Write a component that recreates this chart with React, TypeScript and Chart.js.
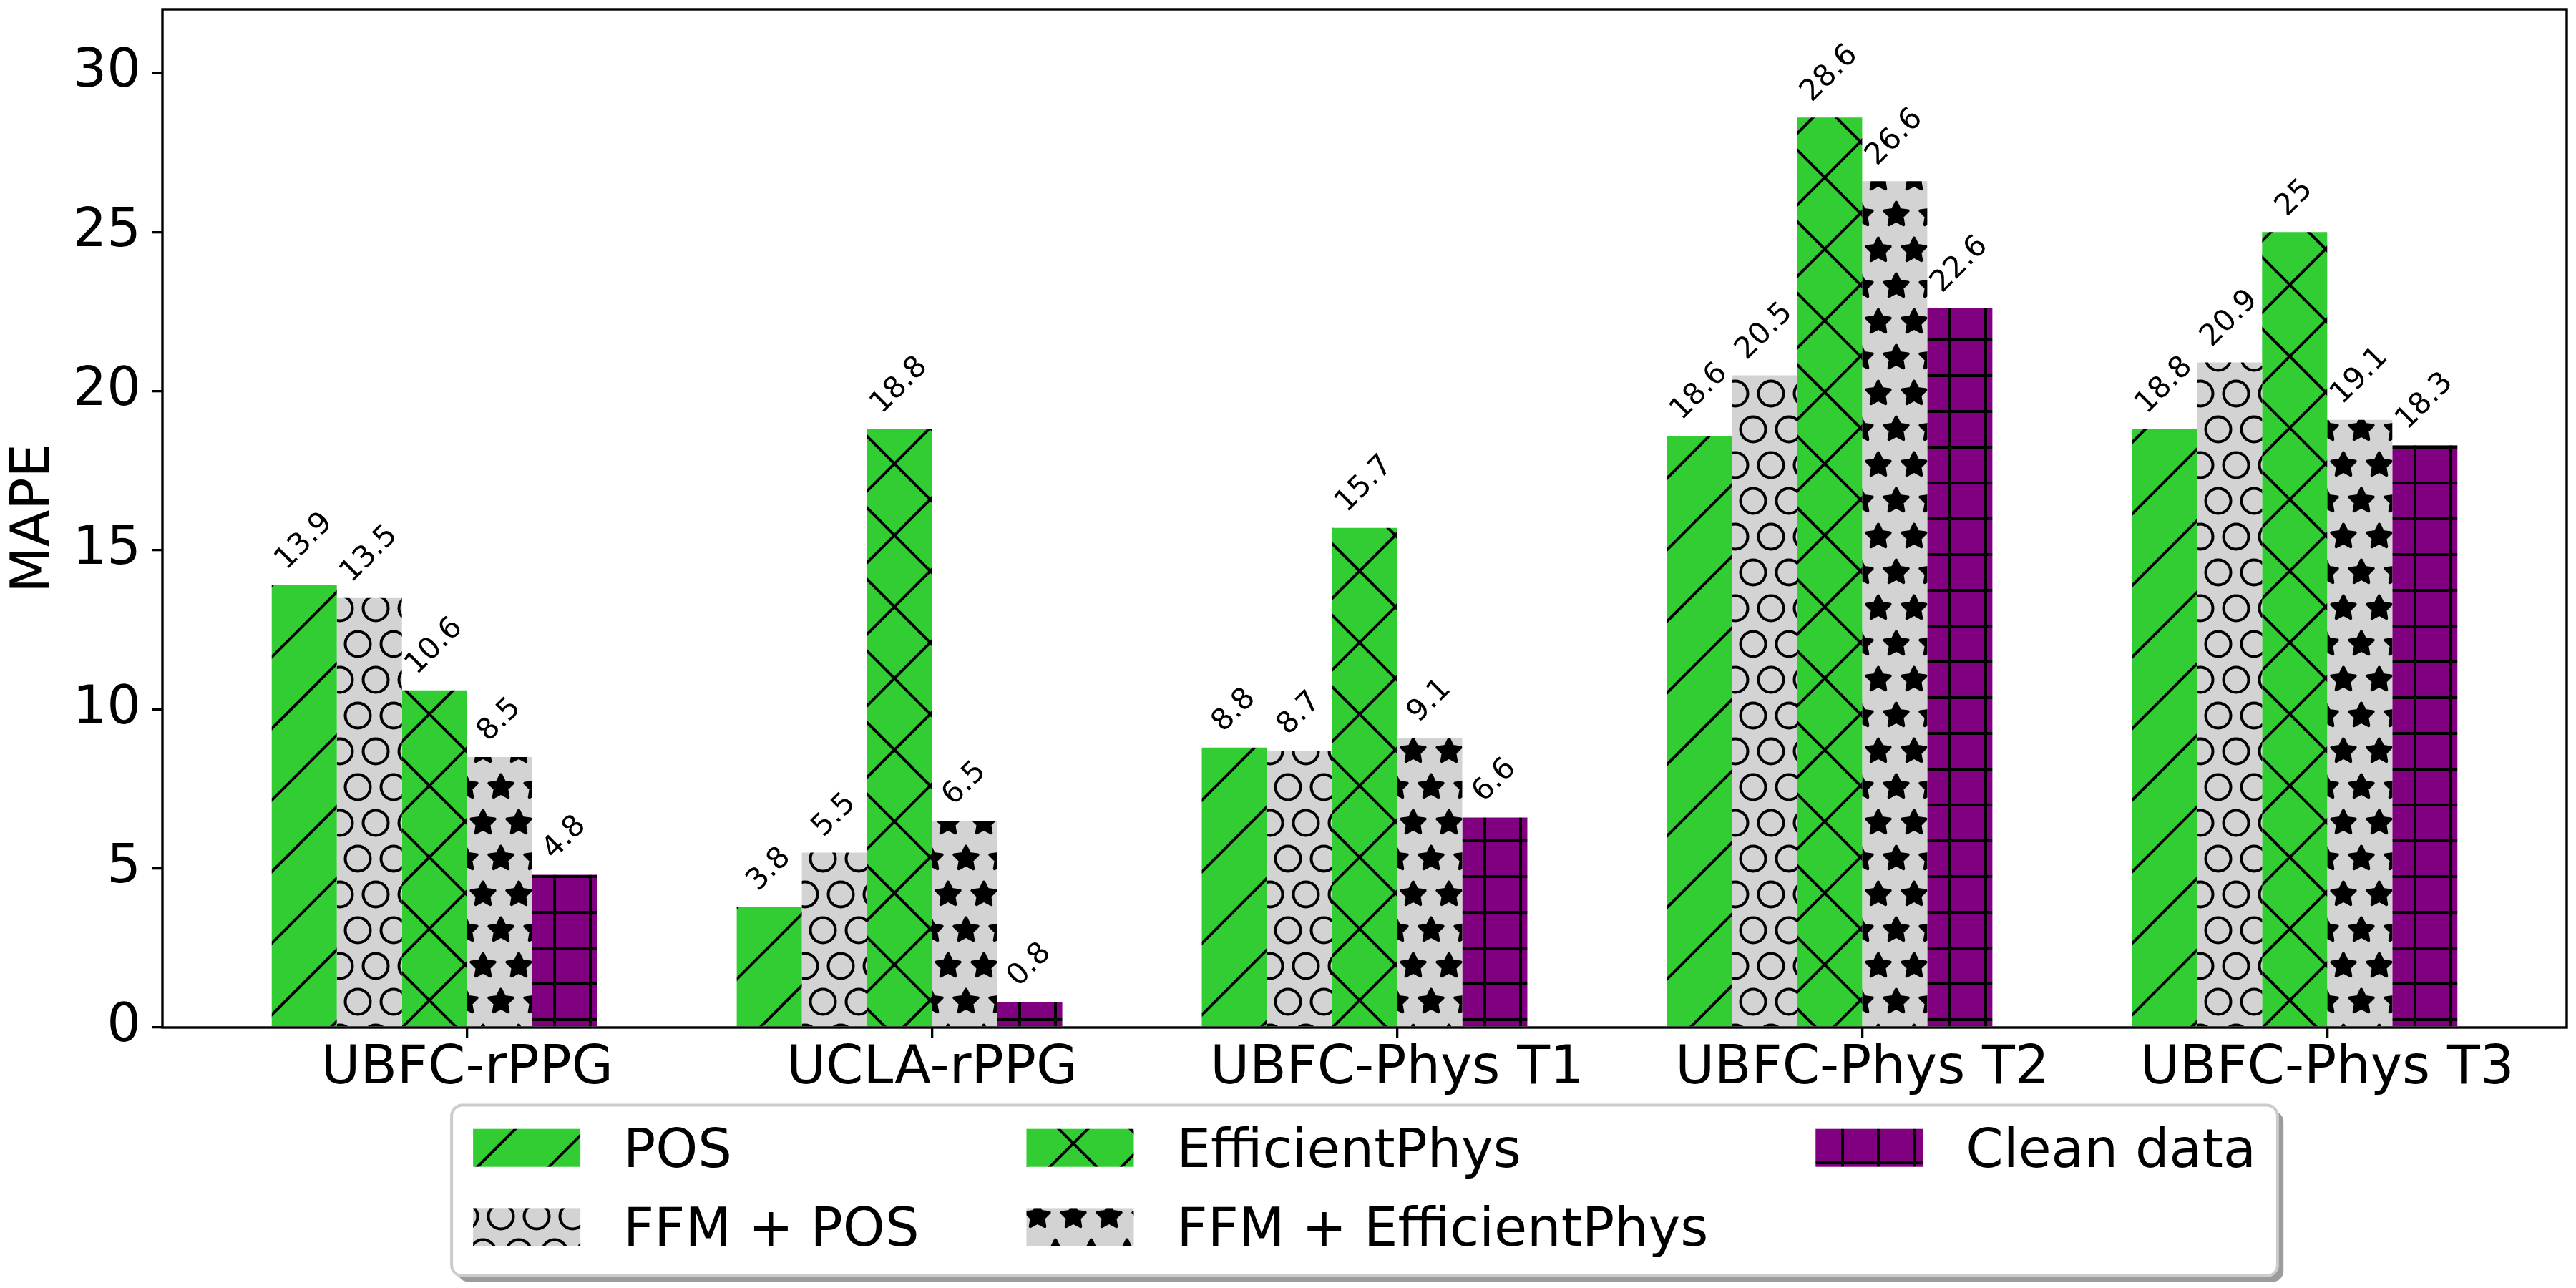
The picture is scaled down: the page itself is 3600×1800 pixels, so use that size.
import { useEffect, useRef } from "react";
import Chart from "chart.js/auto";

const CATEGORIES = ["UBFC-rPPG", "UCLA-rPPG", "UBFC-Phys T1", "UBFC-Phys T2", "UBFC-Phys T3"];
const POS = [13.9, 3.8, 8.8, 18.6, 18.8];
const FFM_POS = [13.5, 5.5, 8.7, 20.5, 20.9];
const EFFICIENT_PHYS = [10.6, 18.8, 15.7, 28.6, 25];
const FFM_EFFICIENT_PHYS = [8.5, 6.5, 9.1, 26.6, 19.1];
const CLEAN_DATA = [4.8, 0.8, 6.6, 22.6, 18.3];
const Y_TICKS = [0, 5, 10, 15, 20, 25, 30];

type Hatch = "/" | "x" | "o" | "*" | "+";

const SERIES: { label: string; values: number[]; color: string; hatch: Hatch }[] = [
  { label: "POS", values: POS, color: "#32cd32", hatch: "/" },
  { label: "FFM + POS", values: FFM_POS, color: "#d3d3d3", hatch: "o" },
  { label: "EfficientPhys", values: EFFICIENT_PHYS, color: "#32cd32", hatch: "x" },
  { label: "FFM + EfficientPhys", values: FFM_EFFICIENT_PHYS, color: "#d3d3d3", hatch: "*" },
  { label: "Clean data", values: CLEAN_DATA, color: "#800080", hatch: "+" },
];

// legend columns (matplotlib fills column by column)
const LEGEND_COLUMNS = [[0, 1], [2, 3], [4]];

const FONT = "'DejaVu Sans'";
const BIG = 75;
const SMALL = 41.7;
const BAR_WIDTH = 0.14;

function makeHatch(base: string, kind: Hatch): CanvasPattern | string {
  const tile = document.createElement("canvas");
  tile.width = 100;
  tile.height = 100;
  const g = tile.getContext("2d");
  if (!g) return base;
  g.fillStyle = base;
  g.fillRect(0, 0, 100, 100);
  g.strokeStyle = "#000";
  g.fillStyle = "#000";
  g.lineWidth = 4;
  g.lineJoin = "round";

  if (kind === "/" || kind === "x") {
    g.beginPath();
    for (const c of [-2, 98, 198]) {
      g.moveTo(c + 20, -20);
      g.lineTo(c - 120, 120);
    }
    g.stroke();
  }
  if (kind === "x") {
    g.beginPath();
    for (const c of [-102, -2, 98]) {
      g.moveTo(-20, -20 + c);
      g.lineTo(120, 120 + c);
    }
    g.stroke();
  }
  if (kind === "+") {
    g.beginPath();
    for (const v of [25, 75]) {
      g.moveTo(v, -5);
      g.lineTo(v, 105);
      g.moveTo(-5, v);
      g.lineTo(105, v);
    }
    g.stroke();
  }
  if (kind === "o" || kind === "*") {
    const lattice = [
      [0, 0],
      [50, 0],
      [25, 50],
      [75, 50],
    ];
    for (const [px, py] of lattice) {
      for (const ox of [-100, 0, 100]) {
        for (const oy of [-100, 0, 100]) {
          const cx = px + ox;
          const cy = py + oy;
          if (cx < -30 || cx > 130 || cy < -30 || cy > 130) continue;
          g.beginPath();
          if (kind === "o") {
            g.arc(cx, cy, 17.5, 0, Math.PI * 2);
            g.stroke();
          } else {
            const R = 17.5;
            for (let k = 0; k < 10; k++) {
              const r = k % 2 === 0 ? R : R * 0.5;
              const a = -Math.PI / 2 + (k * Math.PI) / 5;
              const sx = cx + r * Math.cos(a);
              const sy = cy + r * Math.sin(a);
              if (k === 0) g.moveTo(sx, sy);
              else g.lineTo(sx, sy);
            }
            g.closePath();
            g.fill();
            g.stroke();
          }
        }
      }
    }
  }
  return g.createPattern(tile, "repeat") ?? base;
}

function roundRect(ctx: CanvasRenderingContext2D, x: number, y: number, w: number, h: number, r: number) {
  ctx.beginPath();
  ctx.moveTo(x + r, y);
  ctx.lineTo(x + w - r, y);
  ctx.arcTo(x + w, y, x + w, y + r, r);
  ctx.lineTo(x + w, y + h - r);
  ctx.arcTo(x + w, y + h, x + w - r, y + h, r);
  ctx.lineTo(x + r, y + h);
  ctx.arcTo(x, y + h, x, y + h - r, r);
  ctx.lineTo(x, y + r);
  ctx.arcTo(x, y, x + r, y, r);
  ctx.closePath();
}

const framePlugin = {
  id: "frame",
  afterDatasetsDraw(chart: Chart) {
    const { ctx, chartArea: a } = chart;
    ctx.save();
    ctx.strokeStyle = "#000";
    ctx.lineWidth = 3.4;
    ctx.strokeRect(a.left, a.top, a.right - a.left, a.bottom - a.top);
    ctx.restore();
  },
};

const barLabelPlugin = {
  id: "barLabels",
  afterDatasetsDraw(chart: Chart) {
    const ctx = chart.ctx;
    ctx.save();
    ctx.font = `${SMALL}px ${FONT}`;
    ctx.fillStyle = "#000";
    ctx.textAlign = "center";
    ctx.textBaseline = "middle";
    chart.data.datasets.forEach((ds, di) => {
      const meta = chart.getDatasetMeta(di);
      meta.data.forEach((bar, i) => {
        const point = ds.data[i] as { x: number; y: number };
        const text = String(point.y);
        const w = ctx.measureText(text).width;
        const half = ((w + SMALL * 1.164) * Math.SQRT1_2) / 2;
        const { x, y } = bar.getProps(["x", "y"], true) as { x: number; y: number };
        ctx.save();
        ctx.translate(x, y - 11 - half);
        ctx.rotate(-Math.PI / 4);
        ctx.fillText(text, 0, 0);
        ctx.restore();
      });
    });
    ctx.restore();
  },
};

const legendPlugin = {
  id: "boxLegend",
  afterDraw(chart: Chart) {
    const { ctx, chartArea: a } = chart;
    const handleW = 150;
    const handleH = 53;
    const textPad = 60;
    const colSpacing = 150;
    const borderPad = 30;
    ctx.save();
    ctx.font = `${BIG}px ${FONT}`;
    const colWidths = LEGEND_COLUMNS.map(
      (col) => handleW + textPad + Math.max(...col.map((i) => ctx.measureText(SERIES[i].label).width))
    );
    const width =
      2 * borderPad + colWidths.reduce((s, v) => s + v, 0) + (LEGEND_COLUMNS.length - 1) * colSpacing;
    const height = 238.5;
    const left = (a.left + a.right) / 2 - width / 2;
    const top = 1544.5;

    roundRect(ctx, left + 8.3, top + 8.3, width, height, 15);
    ctx.fillStyle = "#9c9c9c";
    ctx.fill();

    roundRect(ctx, left, top, width, height, 15);
    ctx.fillStyle = "#fff";
    ctx.fill();
    ctx.strokeStyle = "#cccccc";
    ctx.lineWidth = 4;
    ctx.stroke();

    const rowCenters = [top + 59.7, top + 170.4];
    let x = left + borderPad;
    LEGEND_COLUMNS.forEach((col, ci) => {
      col.forEach((si, ri) => {
        const cy = rowCenters[ri];
        const ds = chart.data.datasets[si];
        ctx.fillStyle = ds.backgroundColor as string | CanvasPattern;
        ctx.fillRect(x, cy - handleH / 2, handleW, handleH);
        ctx.fillStyle = "#000";
        ctx.textAlign = "left";
        ctx.textBaseline = "alphabetic";
        ctx.fillText(ds.label ?? "", x + handleW + textPad, cy + handleH / 2);
      });
      x += colWidths[ci] + colSpacing;
    });
    ctx.restore();
  },
};

export default function App() {
  const canvasRef = useRef<HTMLCanvasElement>(null);
  const chartRef = useRef<Chart | null>(null);

  useEffect(() => {
    if (!canvasRef.current) return;
    Chart.defaults.font.family = FONT;
    Chart.defaults.color = "#000";

    const datasets = SERIES.map((s) => {
      const fill = makeHatch(s.color, s.hatch);
      return {
        label: s.label,
        data: s.values.map((v, i) => ({ x: i - BAR_WIDTH / 2, y: v })),
        backgroundColor: fill,
        hoverBackgroundColor: fill,
        borderWidth: 0,
        categoryPercentage: BAR_WIDTH * SERIES.length,
        barPercentage: 1,
      };
    });

    const tickGrid = {
      drawOnChartArea: false,
      drawTicks: true,
      tickLength: 15,
      color: "#000",
      lineWidth: 3.3,
      offset: false,
    };

    chartRef.current = new Chart(canvasRef.current, {
      type: "bar",
      data: { datasets } as any,
      options: {
        animation: false,
        responsive: false,
        devicePixelRatio: 1,
        events: [],
        layout: { padding: { left: 0, top: 13, right: 13, bottom: 0 } },
        plugins: {
          legend: { display: false },
          tooltip: { enabled: false },
        },
        scales: {
          x: {
            type: "linear",
            min: -0.655,
            max: 4.515,
            offset: false,
            bounds: "data",
            grid: tickGrid,
            border: { display: false },
            ticks: {
              autoSkip: false,
              maxRotation: 0,
              minRotation: 0,
              padding: 0,
              color: "#000",
              font: { size: BIG, lineHeight: 1.15 },
              callback: (v: string | number) => CATEGORIES[Number(v)] ?? "",
            },
            afterBuildTicks: (scale: any) => {
              scale.ticks = CATEGORIES.map((_, i) => ({ value: i }));
            },
            afterFit: (scale: any) => {
              scale.height = 364;
              scale.paddingLeft = 0;
              scale.paddingRight = 0;
            },
          },
          y: {
            type: "linear",
            min: 0,
            max: 32,
            grid: tickGrid,
            border: { display: false },
            title: {
              display: true,
              text: "MAPE",
              color: "#000",
              font: { size: BIG },
              padding: { top: 4, bottom: 0 },
            },
            ticks: {
              padding: 15,
              color: "#000",
              font: { size: BIG },
            },
            afterBuildTicks: (scale: any) => {
              scale.ticks = Y_TICKS.map((v) => ({ value: v }));
            },
            afterFit: (scale: any) => {
              scale.width = 227;
              scale.paddingTop = 0;
              scale.paddingBottom = 0;
            },
          },
        },
      } as any,
      plugins: [framePlugin, barLabelPlugin, legendPlugin],
    });

    return () => {
      if (chartRef.current) {
        chartRef.current.destroy();
        chartRef.current = null;
      }
    };
  }, []);

  return (
    <div style={{ position: "absolute", left: 0, top: 0, width: "3600px", height: "1800px", background: "#fff" }}>
      <canvas ref={canvasRef} width={3600} height={1800} style={{ width: "3600px", height: "1800px" }} />
    </div>
  );
}
